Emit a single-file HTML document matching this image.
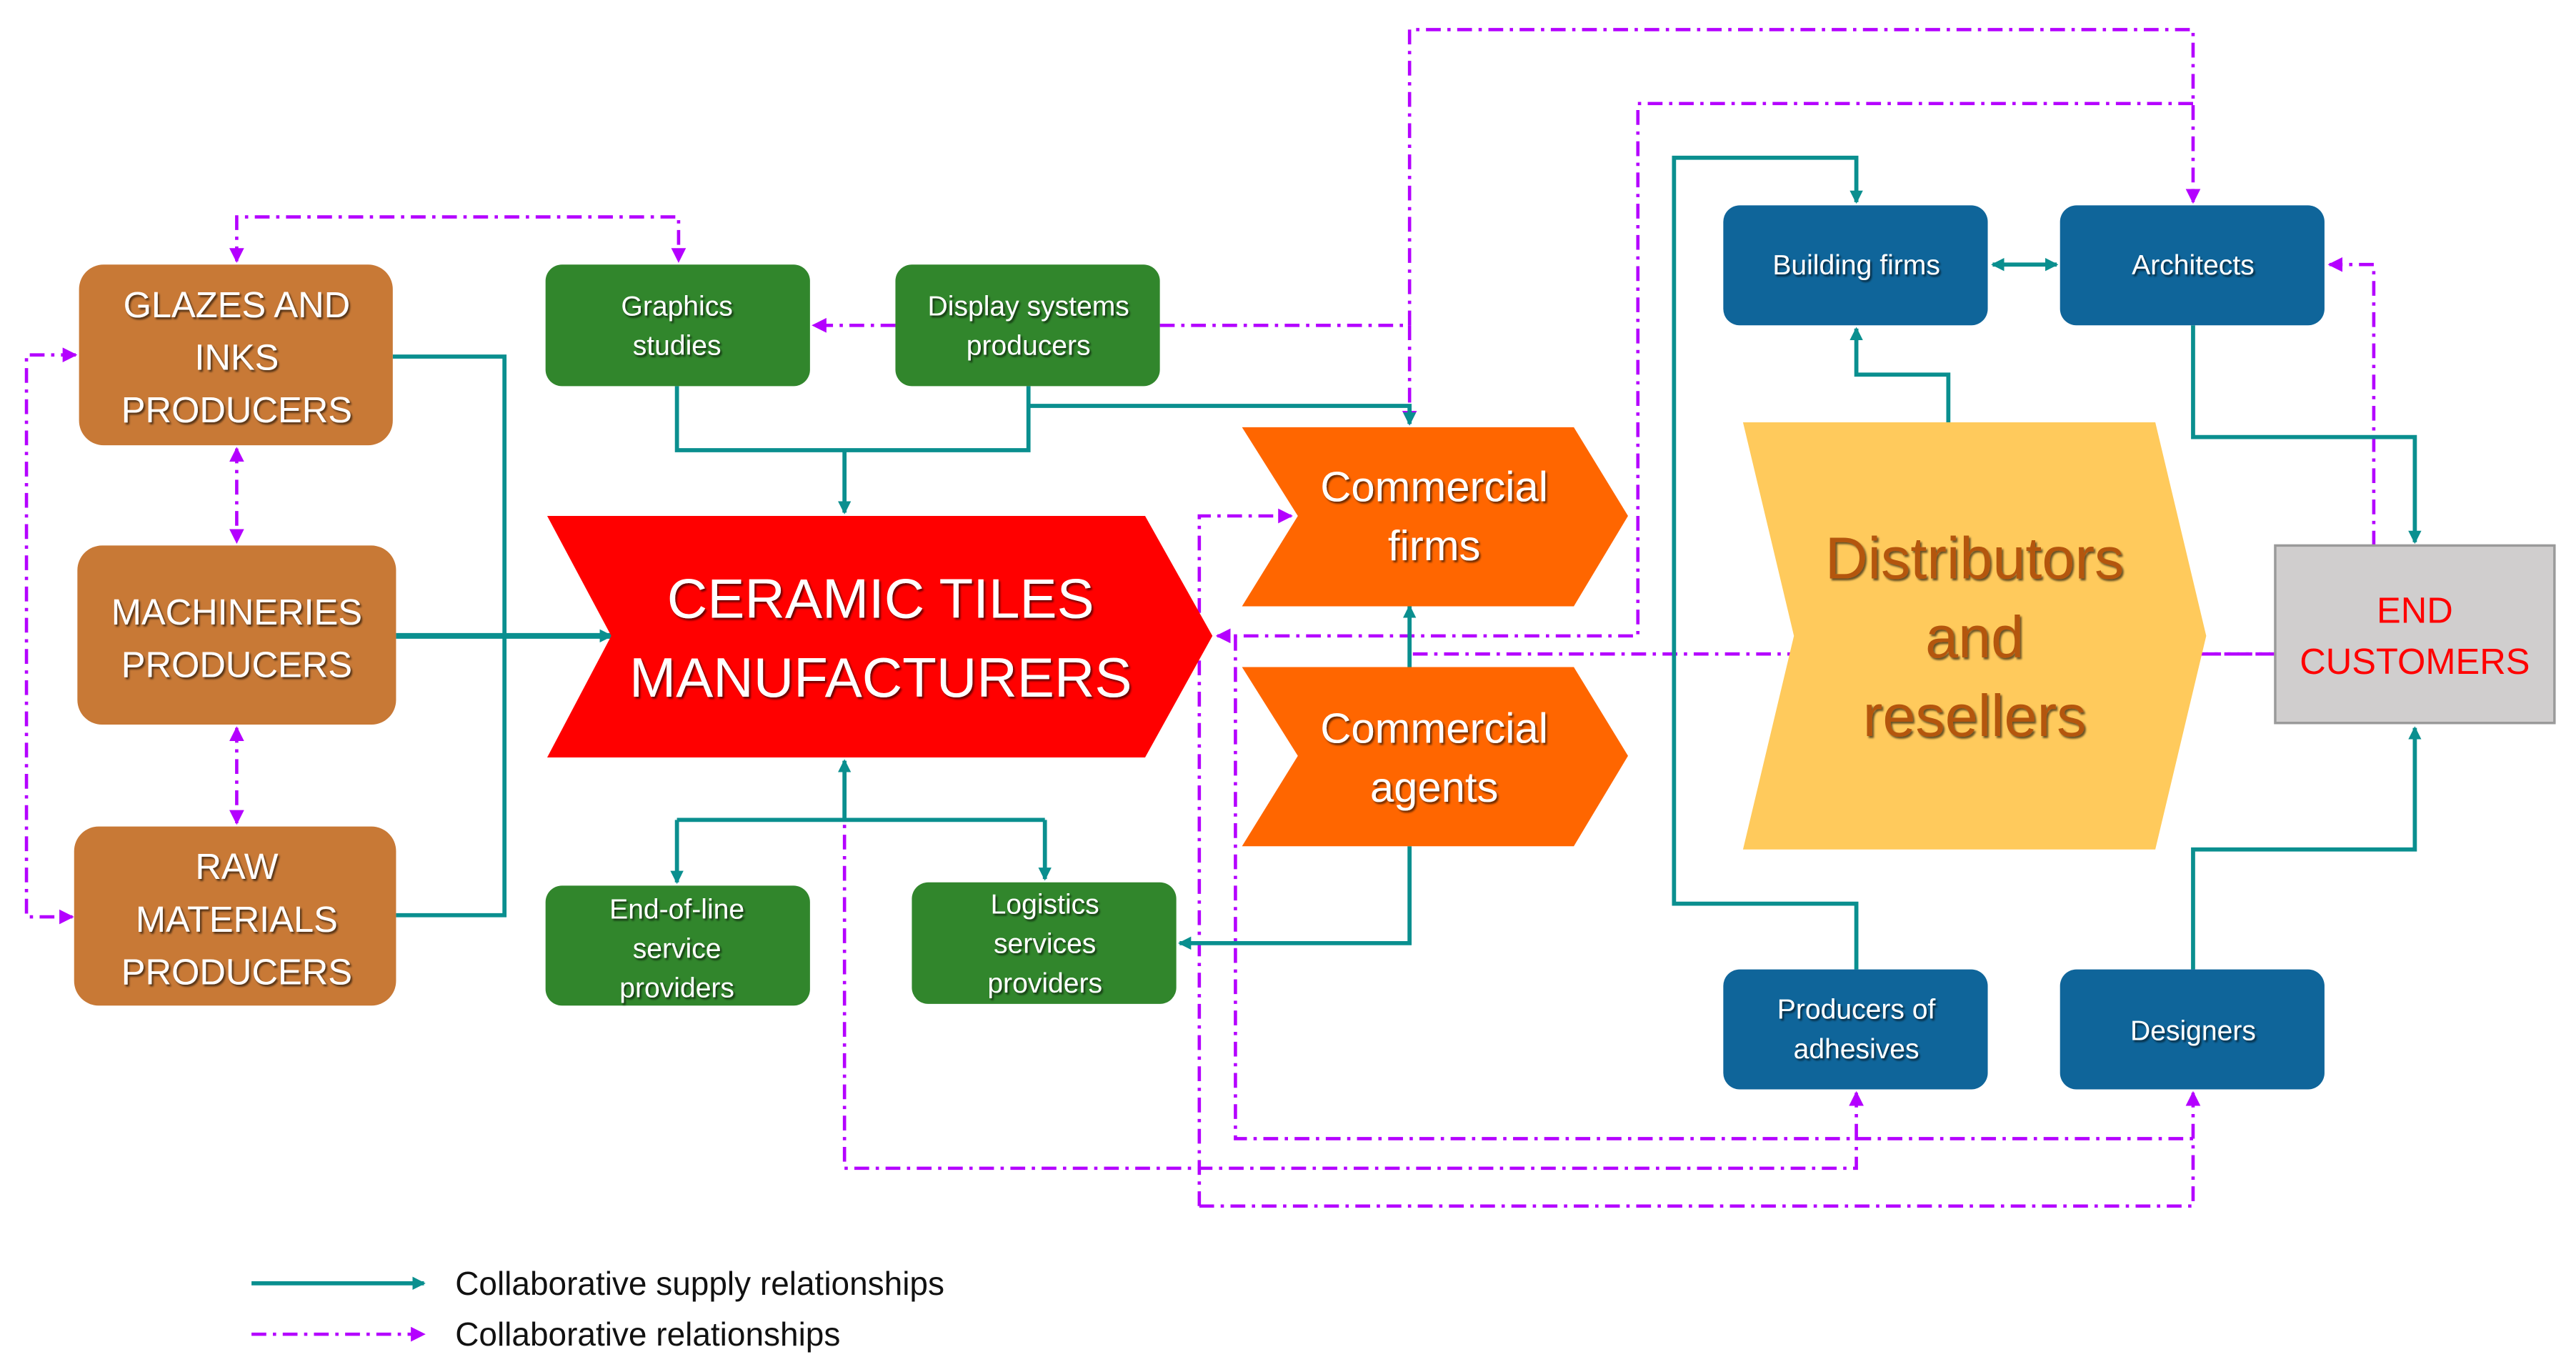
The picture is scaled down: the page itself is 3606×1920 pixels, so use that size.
<!DOCTYPE html>
<html><head><meta charset="utf-8"><style>
html,body{margin:0;padding:0;background:#fff}
svg{display:block}
text{font-family:"Liberation Sans",sans-serif}
.w{fill:#fff;filter:url(#sh)}
</style></head><body>
<svg width="3606" height="1920" viewBox="0 0 1568 835" xmlns="http://www.w3.org/2000/svg">
<defs>
<filter id="sh" x="-10%" y="-10%" width="120%" height="130%"><feDropShadow dx="1" dy="1.2" stdDeviation="0.6" flood-color="#000" flood-opacity="0.6"/></filter>
<marker id="ta" markerWidth="8" markerHeight="8" refX="7" refY="4" orient="auto" markerUnits="userSpaceOnUse"><path d="M0,0 L8,4 L0,8 z" fill="#0A8F8F"/></marker>
<marker id="ts" markerWidth="8" markerHeight="8" refX="1" refY="4" orient="auto" markerUnits="userSpaceOnUse"><path d="M8,0 L0,4 L8,8 z" fill="#0A8F8F"/></marker>
<marker id="ma" markerWidth="9" markerHeight="9" refX="8" refY="4.5" orient="auto" markerUnits="userSpaceOnUse"><path d="M0,0 L9,4.5 L0,9 z" fill="#B400FF"/></marker>
<marker id="ms" markerWidth="9" markerHeight="9" refX="1" refY="4.5" orient="auto" markerUnits="userSpaceOnUse"><path d="M9,0 L0,4.5 L9,9 z" fill="#B400FF"/></marker>
</defs>

<!-- magenta dash-dot lines -->
<g fill="none" stroke="#B400FF" stroke-width="2" stroke-dasharray="9,4,2,4">
<path d="M144,159 V132 H413 V159" marker-start="url(#ms)" marker-end="url(#ma)"/>
<path d="M144,273 V330" marker-start="url(#ms)" marker-end="url(#ma)"/>
<path d="M144,443 V501" marker-start="url(#ms)" marker-end="url(#ma)"/>
<path d="M46,216 H16 V558 H44" marker-start="url(#ms)" marker-end="url(#ma)"/>
<path d="M545,198 H495" marker-end="url(#ma)"/>
<path d="M706,198 H858"/>
<path d="M858,198 V258" marker-end="url(#ma)"/>
<path d="M858,198 V18 H1335 V123" marker-end="url(#ma)"/>
<path d="M1335,63 H997 V387 H741" marker-end="url(#ma)"/>
<path d="M860,398 H1385"/>
<path d="M730,734 V314 H786" marker-end="url(#ma)"/>
<path d="M730,734 H1335 V665" marker-end="url(#ma)"/>
<path d="M752,387 V693 H1335"/>
<path d="M1130,693 V665" marker-end="url(#ma)"/>
<path d="M514,470 V711 H1130 V693"/>
<path d="M1445,332 V161 H1418" marker-end="url(#ma)"/>
<path d="M153,812 H258" marker-end="url(#ma)"/>
</g>

<!-- teal lines -->
<g fill="none" stroke="#0A8F8F" stroke-width="2.5">
<path d="M239,217 H307 V557 H241"/>
<path d="M241,387 H372" stroke-width="3.5" marker-end="url(#ta)"/>
<path d="M412,235 V274 H626 V235"/>
<path d="M514,274 V312" marker-end="url(#ta)"/>
<path d="M626,247 H858 V258" marker-end="url(#ta)"/>
<path d="M514,499 V463" marker-end="url(#ta)"/>
<path d="M412,499 H636"/>
<path d="M412,499 V537" marker-end="url(#ta)"/>
<path d="M636,499 V535" marker-end="url(#ta)"/>
<path d="M858,406 V369" marker-end="url(#ta)"/>
<path d="M858,515 V574 H718" marker-end="url(#ta)"/>
<path d="M1130,590 V550 H1019 V96 H1130 V123" marker-end="url(#ta)"/>
<path d="M1186,257 V228 H1130 V200" marker-end="url(#ta)"/>
<path d="M1213,161 H1252" marker-start="url(#ts)" marker-end="url(#ta)"/>
<path d="M1335,198 V266 H1470 V330" marker-end="url(#ta)"/>
<path d="M1335,590 V517 H1470 V443" marker-end="url(#ta)"/>
<path d="M153,781 H258" marker-end="url(#ta)"/>
</g>

<!-- brown boxes -->
<g fill="#C87936">
<rect x="48" y="161" width="191" height="110" rx="15"/>
<rect x="47" y="332" width="194" height="109" rx="15"/>
<rect x="45" y="503" width="196" height="109" rx="15"/>
</g>
<g class="w" font-size="22" text-anchor="middle">
<text x="144" y="193">GLAZES AND</text><text x="144" y="225">INKS</text><text x="144" y="257">PRODUCERS</text>
<text x="144" y="380">MACHINERIES</text><text x="144" y="412">PRODUCERS</text>
<text x="144" y="535">RAW</text><text x="144" y="567">MATERIALS</text><text x="144" y="599">PRODUCERS</text>
</g>

<!-- green boxes -->
<g fill="#31862C">
<rect x="332" y="161" width="161" height="74" rx="10"/>
<rect x="545" y="161" width="161" height="74" rx="10"/>
<rect x="332" y="539" width="161" height="73" rx="10"/>
<rect x="555" y="537" width="161" height="74" rx="10"/>
</g>
<g class="w" font-size="17" text-anchor="middle">
<text x="412" y="192">Graphics</text><text x="412" y="216">studies</text>
<text x="626" y="192">Display systems</text><text x="626" y="216">producers</text>
<text x="412" y="559">End-of-line</text><text x="412" y="583">service</text><text x="412" y="607">providers</text>
<text x="636" y="556">Logistics</text><text x="636" y="580">services</text><text x="636" y="604">providers</text>
</g>

<!-- chevrons -->
<polygon points="333,314 697,314 738,387 697,461 333,461 372,387" fill="#FF0000"/>
<g class="w" font-size="34" text-anchor="middle">
<text x="536" y="376">CERAMIC TILES</text><text x="536" y="424">MANUFACTURERS</text>
</g>
<polygon points="756,260 958,260 991,314 958,369 756,369 790,314" fill="#FF6600"/>
<polygon points="756,406 958,406 991,460 958,515 756,515 790,460" fill="#FF6600"/>
<g class="w" font-size="26" text-anchor="middle">
<text x="873" y="305">Commercial</text><text x="873" y="341">firms</text>
<text x="873" y="452">Commercial</text><text x="873" y="488">agents</text>
</g>
<polygon points="1061,257 1312,257 1343,387 1312,517 1061,517 1092,387" fill="#FFCA5C"/>
<g font-size="36" text-anchor="middle" fill="#B4560E" filter="url(#sh)">
<text x="1202" y="352">Distributors</text><text x="1202" y="400">and</text><text x="1202" y="448">resellers</text>
</g>
<path d="M1343,398 H1385" fill="none" stroke="#B400FF" stroke-width="2" stroke-dasharray="9,4,2,4"/>

<rect x="1385" y="332" width="170" height="108" fill="#D0CECE" stroke="#9A9A9A" stroke-width="1.5"/>
<g font-size="22" text-anchor="middle" fill="#FF0000">
<text x="1470" y="379">END</text><text x="1470" y="410">CUSTOMERS</text>
</g>

<!-- blue boxes -->
<g fill="#0F659A">
<rect x="1049" y="125" width="161" height="73" rx="10"/>
<rect x="1254" y="125" width="161" height="73" rx="10"/>
<rect x="1049" y="590" width="161" height="73" rx="10"/>
<rect x="1254" y="590" width="161" height="73" rx="10"/>
</g>
<g class="w" font-size="17" text-anchor="middle">
<text x="1130" y="167">Building firms</text>
<text x="1335" y="167">Architects</text>
<text x="1130" y="620">Producers of</text><text x="1130" y="644">adhesives</text>
<text x="1335" y="633">Designers</text>
</g>

<!-- legend -->
<g font-size="20" fill="#111">
<text x="277" y="788">Collaborative supply relationships</text>
<text x="277" y="819">Collaborative relationships</text>
</g>
</svg>
</body></html>
